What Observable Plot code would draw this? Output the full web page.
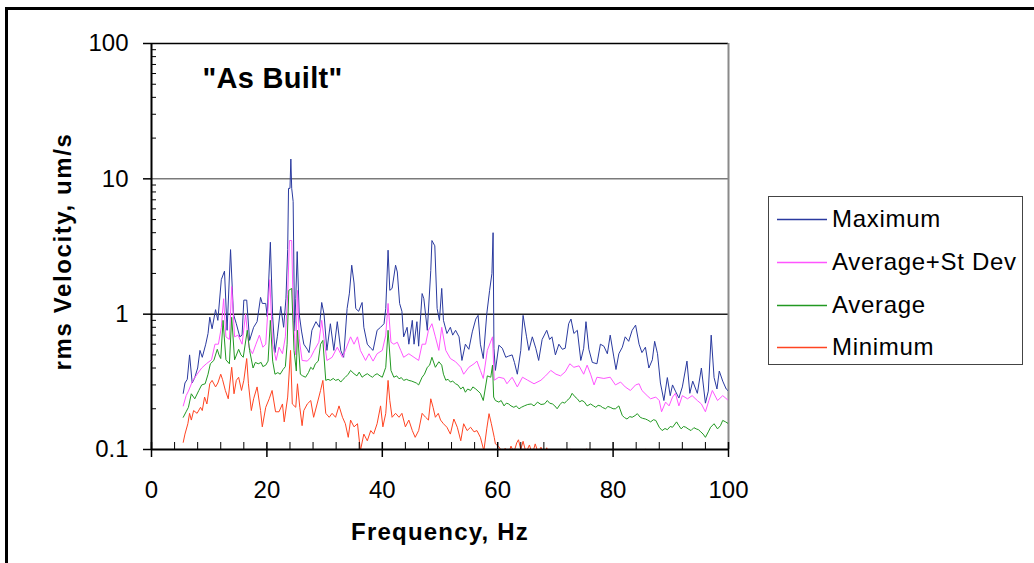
<!DOCTYPE html>
<html>
<head>
<meta charset="utf-8">
<script src="https://cdn.jsdelivr.net/npm/d3@7"></script>
<script src="https://cdn.jsdelivr.net/npm/@observablehq/plot@0.6"></script>
<style>
  html, body { margin: 0; padding: 0; background: white; }
  #wrap { position: relative; width: 1034px; height: 563px; overflow: hidden; font-family: 'Liberation Sans', Arial, sans-serif; }
  #frame { position: absolute; left: 5px; top: 7px; width: 1040px; height: 600px; border-top: 3px solid #000; border-left: 3px solid #000; pointer-events: none; }
  #legend { position: absolute; left: 768px; top: 196px; width: 255px; height: 169px; border: 1.3px solid #444; box-sizing: border-box; background: white; }
  .lrow { position: absolute; left: 0; height: 30px; }
  .lrow svg { position: absolute; left: 8px; top: 14px; }
  .lrow span { position: absolute; left: 63px; top: 0; font-size: 24px; line-height: 30px; letter-spacing: 0.7px; color: #000; white-space: nowrap; }
</style>
</head>
<body>
<div id="wrap"><div id="frame"></div></div>
<script>
// ---- data ----
const seriesNames = ["Maximum", "Average+St Dev", "Average", "Minimum"];
const seriesColors = ["#2a3a9f", "#ff55ff", "#229922", "#ff4422"];
const frequencyTicks = [0, 20, 40, 60, 80, 100];
const frequencyMinorTicks = [4, 8, 12, 16, 24, 28, 32, 36, 44, 48, 52, 56, 64, 68, 72, 76, 84, 88, 92, 96];
const velocityTicks = [0.1, 1, 10, 100];
const velocityMinorTicks = [0.2,0.3,0.4,0.5,0.6,0.7,0.8,0.9, 2,3,4,5,6,7,8,9, 20,30,40,50,60,70,80,90];

// [frequency Hz, rms velocity um/s]
const maximum = [[5.5,0.26],[5.8,0.31],[6.2,0.33],[6.6,0.50],[7.05,0.31],[7.5,0.34],[8.0,0.40],[8.4,0.54],[8.8,0.48],[9.4,0.60],[9.8,0.72],[10.1,0.95],[10.5,0.78],[11.1,1.08],[11.5,0.90],[12.1,1.8],[12.65,2.08],[13.1,0.76],[13.7,3.0],[14.2,1.0],[14.7,0.85],[15.3,0.68],[15.7,0.70],[16.0,1.27],[16.5,1.27],[17.0,0.64],[17.7,0.80],[18.3,0.88],[18.9,1.33],[19.2,1.2],[19.8,1.2],[20.05,0.96],[20.6,3.4],[21.0,0.96],[21.4,0.52],[21.8,0.68],[22.4,1.14],[22.9,0.8],[23.3,1.3],[23.6,3.0],[23.75,8.5],[24.0,8.5],[24.15,14],[24.3,8.5],[24.55,6.8],[24.8,0.75],[25.0,1.3],[25.25,2.9],[25.6,1.0],[26.0,0.75],[26.4,0.6],[27.0,0.55],[27.3,0.52],[27.8,0.76],[28.5,0.88],[29.1,0.8],[29.5,1.22],[29.9,1.0],[30.4,0.54],[31.0,0.85],[31.6,0.54],[32.2,0.88],[32.8,0.54],[33.3,0.48],[33.9,1.1],[34.3,1.43],[34.7,2.3],[35.1,1.7],[35.4,1.1],[35.9,1.05],[36.5,1.22],[36.8,0.8],[37.4,0.6],[38.0,0.56],[38.4,0.54],[39.1,0.76],[39.7,0.8],[40.3,0.85],[40.6,1.1],[41.0,2.97],[41.3,1.5],[41.7,1.55],[42.3,2.3],[42.6,2.05],[43.0,1.2],[43.4,1.05],[43.7,0.68],[44.3,0.8],[44.6,0.6],[45.2,0.9],[45.5,0.6],[46.0,0.88],[46.3,0.58],[46.9,1.42],[47.2,1.3],[47.8,0.76],[48.4,2.1],[48.6,3.5],[49.1,3.2],[49.5,1.1],[49.9,0.9],[50.3,1.55],[50.6,0.9],[51.2,0.72],[51.8,0.8],[52.2,0.7],[52.7,0.76],[53.3,0.68],[53.8,0.455],[54.4,0.6],[55.0,0.55],[55.6,0.74],[56.2,0.92],[56.6,0.98],[57.0,0.6],[57.5,0.47],[58.1,1.0],[58.6,1.5],[59.0,2.0],[59.2,4.0],[59.35,0.56],[59.6,0.384],[60.2,0.59],[60.8,0.56],[61.4,0.48],[61.9,0.49],[62.5,0.5],[62.9,0.44],[63.4,0.36],[64.0,0.54],[64.4,0.98],[65.0,0.68],[65.4,0.54],[66.0,0.68],[66.6,0.56],[67.1,0.455],[67.7,0.65],[68.5,0.76],[69.0,0.65],[69.4,0.68],[70.0,0.5],[70.6,0.6],[71.2,0.55],[71.7,0.56],[72.3,0.85],[72.7,0.92],[73.2,0.72],[73.8,0.76],[74.4,0.455],[74.9,0.56],[75.3,0.88],[75.8,0.55],[76.4,0.44],[77.2,0.43],[77.8,0.6],[78.4,0.58],[79.0,0.51],[79.5,0.7],[80.1,0.49],[80.5,0.39],[81.0,0.51],[81.6,0.57],[82.1,0.68],[82.7,0.63],[83.3,0.76],[83.9,0.83],[84.5,0.6],[85.0,0.52],[85.6,0.57],[86.2,0.4],[86.8,0.46],[87.2,0.63],[87.7,0.51],[88.2,0.31],[88.8,0.23],[89.4,0.34],[89.9,0.25],[90.3,0.3],[90.8,0.27],[91.4,0.24],[92.0,0.29],[92.8,0.45],[93.3,0.26],[93.8,0.32],[94.6,0.26],[95.3,0.4],[96.0,0.22],[96.5,0.27],[97.0,0.7],[97.5,0.34],[98.0,0.28],[98.4,0.38],[99.0,0.32],[99.6,0.28],[100,0.27]];

const averagePlusStDev = [[5.5,0.21],[6.0,0.25],[6.4,0.27],[7.1,0.32],[7.9,0.36],[8.7,0.40],[9.5,0.43],[10.4,0.46],[11.0,0.60],[11.6,0.60],[12.1,0.80],[12.5,1.3],[12.9,0.68],[13.5,0.65],[13.9,1.6],[14.4,0.68],[15.0,0.70],[15.7,0.60],[16.3,1.0],[16.9,0.57],[17.5,0.51],[18.1,0.60],[18.7,0.70],[19.3,0.57],[19.8,0.60],[20.5,1.8],[21.0,0.60],[21.6,0.455],[22.1,0.57],[22.7,0.51],[23.2,0.68],[23.6,1.4],[23.9,3.5],[24.3,3.5],[24.6,0.90],[25.0,0.50],[25.3,1.5],[25.6,0.66],[26.1,0.455],[27.0,0.45],[27.6,0.48],[28.2,0.54],[29.0,0.62],[29.5,0.9],[29.9,0.66],[30.4,0.455],[31.3,0.48],[32.2,0.57],[33.1,0.48],[33.6,0.54],[34.5,0.68],[35.1,0.60],[35.7,0.68],[36.2,0.54],[37.1,0.455],[37.7,0.51],[38.4,0.45],[39.1,0.51],[40.0,0.54],[40.6,0.70],[41.0,1.2],[41.5,0.62],[42.0,0.60],[42.6,0.62],[43.2,0.54],[43.7,0.48],[44.6,0.51],[45.5,0.48],[46.3,0.455],[46.9,0.60],[47.5,0.60],[48.0,0.76],[48.6,0.85],[49.2,0.68],[49.8,0.54],[50.3,0.80],[51.0,0.54],[51.8,0.47],[52.7,0.445],[53.6,0.405],[54.1,0.36],[55.0,0.405],[55.9,0.43],[56.4,0.45],[57.0,0.384],[57.5,0.335],[58.2,0.54],[59.1,0.68],[59.4,0.325],[60.2,0.342],[61.1,0.335],[61.6,0.306],[62.5,0.342],[63.4,0.29],[64.3,0.342],[65.2,0.325],[66.3,0.306],[67.5,0.325],[68.3,0.35],[69.2,0.384],[70.1,0.36],[70.9,0.35],[71.7,0.375],[72.5,0.43],[73.2,0.405],[74.1,0.415],[74.9,0.36],[75.5,0.42],[76.1,0.36],[76.7,0.30],[77.2,0.342],[78.4,0.335],[79.5,0.342],[80.4,0.30],[81.3,0.315],[82.1,0.29],[83.0,0.273],[83.9,0.30],[84.5,0.306],[85.0,0.273],[85.9,0.25],[86.5,0.237],[87.4,0.244],[88.0,0.23],[88.4,0.19],[89.1,0.224],[89.7,0.21],[90.3,0.244],[90.8,0.26],[91.4,0.21],[92.0,0.25],[92.9,0.237],[93.7,0.25],[94.6,0.23],[95.3,0.217],[96.0,0.19],[96.6,0.23],[97.2,0.273],[98.1,0.23],[99.0,0.25],[100,0.23]];

const average = [[5.5,0.173],[6.0,0.19],[6.4,0.205],[6.9,0.258],[7.5,0.237],[8.2,0.273],[8.7,0.30],[9.3,0.306],[9.8,0.36],[10.2,0.43],[10.8,0.455],[11.4,0.55],[11.7,0.5],[12.0,0.47],[12.4,0.90],[12.9,0.46],[13.5,0.43],[13.9,0.95],[14.4,0.46],[15.1,0.55],[15.5,0.5],[15.9,0.48],[16.6,0.76],[17.0,0.54],[17.6,0.40],[18.0,0.44],[18.5,0.43],[19.0,0.44],[19.3,0.41],[19.8,0.42],[20.2,0.45],[20.6,0.90],[21.0,0.45],[21.4,0.36],[21.9,0.37],[22.3,0.36],[22.8,0.39],[23.2,0.41],[23.5,0.6],[23.8,1.5],[24.3,1.55],[24.7,0.54],[25.1,0.38],[25.3,0.76],[25.8,0.36],[26.2,0.35],[26.7,0.342],[27.2,0.37],[27.6,0.405],[28.0,0.39],[28.4,0.43],[28.9,0.45],[29.3,0.60],[29.7,0.64],[30.2,0.324],[30.6,0.33],[31.0,0.324],[31.5,0.335],[31.9,0.324],[32.4,0.33],[32.8,0.315],[33.2,0.33],[33.6,0.342],[34.1,0.36],[34.5,0.384],[35.1,0.363],[35.6,0.35],[36.0,0.373],[36.5,0.342],[37.0,0.355],[37.4,0.363],[37.9,0.35],[38.3,0.342],[38.7,0.355],[39.1,0.363],[39.6,0.35],[40.0,0.342],[40.6,0.405],[41.0,0.76],[41.5,0.384],[42.0,0.342],[42.5,0.35],[42.9,0.333],[43.3,0.34],[43.7,0.324],[44.2,0.33],[44.6,0.324],[45.1,0.32],[45.5,0.315],[45.9,0.31],[46.3,0.30],[46.9,0.342],[47.3,0.36],[47.8,0.405],[48.2,0.42],[48.6,0.48],[49.2,0.405],[49.8,0.445],[50.3,0.42],[50.6,0.36],[51.0,0.325],[51.4,0.33],[51.8,0.315],[52.2,0.32],[52.7,0.306],[53.1,0.3],[53.6,0.28],[54.0,0.29],[54.4,0.265],[54.8,0.28],[55.3,0.273],[55.7,0.29],[56.2,0.28],[56.6,0.27],[57.0,0.26],[57.5,0.23],[58.2,0.35],[58.8,0.342],[59.1,0.42],[59.3,0.244],[59.6,0.23],[60.2,0.224],[60.6,0.23],[61.1,0.21],[61.5,0.22],[61.9,0.217],[62.3,0.21],[62.8,0.205],[63.2,0.21],[63.7,0.2],[64.1,0.205],[64.6,0.21],[65.2,0.215],[65.8,0.217],[66.3,0.21],[66.9,0.224],[67.5,0.215],[68.1,0.217],[68.6,0.23],[69.0,0.22],[69.5,0.217],[69.9,0.21],[70.3,0.2],[70.8,0.215],[71.2,0.224],[71.6,0.22],[72.0,0.23],[72.5,0.24],[72.9,0.26],[73.4,0.245],[73.8,0.237],[74.2,0.225],[74.6,0.23],[75.0,0.225],[75.5,0.21],[76.1,0.217],[76.6,0.21],[77.0,0.205],[77.4,0.212],[77.8,0.21],[78.2,0.204],[78.7,0.2],[79.1,0.208],[79.5,0.205],[80.0,0.2],[80.4,0.2],[81.0,0.21],[81.6,0.178],[82.0,0.172],[82.4,0.168],[82.9,0.175],[83.3,0.173],[83.8,0.178],[84.2,0.184],[84.7,0.173],[85.1,0.17],[85.6,0.168],[86.0,0.165],[86.5,0.16],[87.0,0.166],[87.4,0.164],[88.0,0.146],[88.5,0.138],[89.0,0.143],[89.4,0.14],[89.9,0.148],[90.3,0.146],[91.0,0.16],[91.4,0.15],[91.8,0.142],[92.2,0.148],[92.6,0.146],[93.0,0.142],[93.5,0.138],[94.0,0.145],[94.4,0.142],[94.8,0.14],[95.2,0.135],[95.6,0.13],[96.0,0.123],[96.5,0.135],[96.9,0.146],[97.5,0.155],[98.1,0.142],[98.6,0.15],[99.0,0.164],[99.5,0.16],[100,0.155]];

const minimum = [[5.5,0.113],[5.8,0.13],[6.3,0.155],[6.6,0.185],[6.9,0.165],[7.3,0.194],[7.9,0.185],[8.5,0.205],[8.8,0.194],[9.2,0.244],[9.6,0.217],[10.1,0.306],[10.5,0.324],[11.1,0.29],[11.5,0.31],[12.0,0.36],[12.3,0.33],[12.8,0.273],[13.3,0.237],[13.9,0.405],[14.3,0.258],[14.7,0.324],[15.1,0.342],[15.6,0.273],[16.0,0.324],[16.5,0.47],[16.8,0.306],[17.3,0.194],[17.7,0.237],[18.3,0.29],[18.9,0.194],[19.2,0.147],[19.8,0.205],[20.4,0.237],[20.9,0.273],[21.5,0.19],[22.1,0.19],[22.7,0.217],[23.0,0.16],[23.6,0.244],[24.1,0.54],[24.4,0.217],[25.0,0.205],[25.3,0.306],[25.7,0.205],[26.1,0.15],[26.4,0.194],[27.0,0.217],[27.6,0.23],[28.1,0.173],[28.7,0.217],[29.3,0.273],[29.7,0.324],[30.2,0.185],[30.8,0.173],[31.3,0.185],[31.9,0.173],[32.5,0.21],[33.1,0.173],[33.6,0.155],[34.1,0.123],[34.5,0.165],[35.1,0.147],[35.7,0.155],[36.2,0.098],[36.8,0.13],[37.4,0.116],[38.0,0.138],[38.5,0.13],[39.1,0.155],[39.7,0.21],[40.1,0.147],[40.6,0.185],[41.0,0.324],[41.3,0.23],[41.7,0.173],[42.3,0.185],[42.9,0.173],[43.4,0.185],[44.0,0.147],[44.6,0.165],[45.2,0.138],[45.7,0.123],[46.3,0.138],[46.9,0.185],[47.5,0.173],[48.0,0.165],[48.4,0.237],[48.8,0.205],[49.2,0.173],[49.7,0.185],[50.1,0.165],[50.6,0.155],[51.2,0.146],[51.8,0.13],[52.4,0.168],[53.0,0.146],[53.6,0.116],[54.1,0.155],[54.7,0.138],[55.3,0.146],[55.9,0.135],[56.4,0.138],[57.0,0.123],[57.6,0.098],[58.1,0.142],[58.5,0.184],[58.9,0.155],[59.4,0.123],[59.6,0.11],[60.2,0.105],[60.8,0.095],[61.3,0.102],[61.8,0.09],[62.3,0.106],[62.8,0.095],[63.3,0.112],[63.6,0.118],[64.0,0.1],[64.4,0.115],[64.9,0.095],[65.5,0.108],[66.0,0.092],[66.5,0.11],[67.0,0.095],[67.5,0.104],[68.0,0.09],[68.5,0.103],[69.2,0.085],[70.0,0.088],[71.0,0.09],[72.2,0.092],[72.6,0.101],[73.2,0.088],[74.0,0.09],[75.4,0.101],[76.0,0.088],[77.0,0.09],[78.5,0.085],[80.0,0.088],[82.0,0.084],[84.0,0.086],[85.6,0.101],[86.2,0.086],[88.0,0.082],[90.0,0.08],[92.0,0.08],[94.0,0.078],[96.0,0.075],[98.0,0.08],[100,0.082]];

const seriesData = [maximum, averagePlusStDev, average, minimum];

// ---- build table ----
const rows = [];
seriesData.forEach((arr, i) => arr.forEach(([f, v]) => rows.push({series: seriesNames[i], f, v})));

const W = 1034, H = 563;
const mL = 151, mR = 306, mT = 43, mB = 114;
const fw = W - mL - mR, fh = H - mT - mB;

const chart = Plot.plot({
  width: W, height: H,
  marginLeft: mL, marginRight: mR, marginTop: mT, marginBottom: mB,
  style: {fontFamily: "'Liberation Sans', Arial, sans-serif", fontSize: "24px", background: "white", color: "black", overflow: "visible"},
  x: {domain: [0, 100], axis: null},
  y: {type: "log", domain: [0.1, 100], axis: null},
  color: {domain: seriesNames, range: seriesColors},
  marks: [
    Plot.ruleY([10], {stroke: "#7a7a7a", strokeWidth: 1.5}),
    Plot.ruleY([1], {stroke: "#1e1e1e", strokeWidth: 1.5}),
    Plot.ruleY([100], {stroke: "#000", strokeWidth: 1.5}),
    Plot.ruleX([100], {stroke: "#8a8a8a", strokeWidth: 2}),
    Plot.line(rows, {x: "f", y: "v", z: "series", stroke: "series", strokeWidth: 1, clip: true}),
    Plot.ruleY([0.1], {stroke: "#000", strokeWidth: 2}),
    Plot.ruleX([0], {stroke: "#000", strokeWidth: 2}),
    Plot.tickY(velocityMinorTicks, {y: d => d, insetRight: fw - 5, stroke: "#000", strokeWidth: 1}),
    Plot.tickY(velocityTicks, {y: d => d, insetLeft: -8, insetRight: fw, stroke: "#000", strokeWidth: 1.5}),
    Plot.tickX(frequencyMinorTicks, {x: d => d, insetTop: fh - 7, stroke: "#000", strokeWidth: 1}),
    Plot.tickX(frequencyTicks, {x: d => d, insetTop: fh - 7, insetBottom: -8, stroke: "#000", strokeWidth: 1.5}),
    Plot.axisX({ticks: frequencyTicks, tickSize: 0, tickPadding: 31, label: null, fontSize: 24}),
    Plot.axisY({ticks: velocityTicks, tickSize: 0, tickPadding: 23, tickFormat: d => String(d), label: null, fontSize: 24}),
    Plot.text(["\"As Built\""], {frameAnchor: "top-left", textAnchor: "start", lineAnchor: "middle", dx: 51, dy: 35, fontWeight: "bold", fontSize: 29}),
    Plot.text(["Frequency, Hz"], {frameAnchor: "bottom", textAnchor: "middle", lineAnchor: "middle", dy: 83, fontWeight: "bold", fontSize: 24}),
    Plot.text(["rms Velocity, um/s"], {frameAnchor: "left", textAnchor: "middle", lineAnchor: "middle", rotate: -90, dx: -88, dy: 5, fontWeight: "bold", fontSize: 24})
  ]
});
chart.style.position = "absolute";
chart.style.left = "0px";
chart.style.top = "0px";

d3.select(chart).selectAll("text").each(function() {
  const t = this.textContent;
  if (t === "Frequency, Hz") this.setAttribute("letter-spacing", "1.2px");
  if (t === "rms Velocity, um/s") this.setAttribute("letter-spacing", "1.6px");
  if (t === "\"As Built\"") this.setAttribute("letter-spacing", "0.3px");
});

const wrap = document.getElementById("wrap");
wrap.insertBefore(chart, wrap.firstChild);

// ---- legend ----
const legend = document.createElement("div");
legend.id = "legend";
const rowCenters = [22, 65, 108, 150];
seriesNames.forEach((name, i) => {
  const r = document.createElement("div");
  r.className = "lrow";
  r.style.top = (rowCenters[i] - 15) + "px";
  r.innerHTML = `<svg width="50" height="3"><line x1="0" x2="50" y1="1.5" y2="1.5" stroke="${seriesColors[i]}" stroke-width="1.5"/></svg><span>${name}</span>`;
  legend.appendChild(r);
});
wrap.appendChild(legend);
</script>
</body>
</html>
